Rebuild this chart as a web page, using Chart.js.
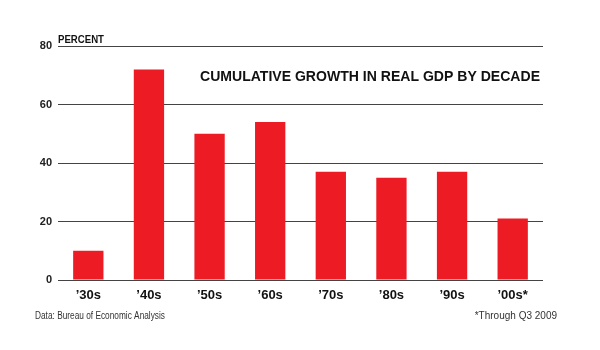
<!DOCTYPE html>
<html>
<head>
<meta charset="utf-8">
<script src="https://cdn.jsdelivr.net/npm/chart.js@4"></script>
<style>
  html, body { margin: 0; padding: 0; background: #fff; }
  #wrap { width: 600px; height: 350px; position: relative; }
</style>
</head>
<body>
<div id="wrap"><canvas id="gdp_chart"></canvas></div>
<script>
const decades = ["’30s", "’40s", "’50s", "’60s", "’70s", "’80s", "’90s", "’00s*"];
const growth = [10, 72, 50, 54, 37, 35, 37, 21];
const yTicks = [0, 20, 40, 60, 80];

const title = "CUMULATIVE GROWTH IN REAL GDP BY DECADE";
const unitLabel = "PERCENT";
const source = "Data: Bureau of Economic Analysis";
const note = "*Through Q3 2009";

const FONT = "'Liberation Sans', Arial, sans-serif";

// title, unit and footers drawn straight on the canvas
const textPlugin = {
    id: "texts",
    afterDraw(chart) {
        const c = chart.ctx;
        const area = chart.chartArea;
        c.save();
        c.fillStyle = "#111";
        c.textBaseline = "alphabetic";

        c.font = "bold 15px " + FONT;
        c.textAlign = "right";
        c.fillText(title, 540, 81, 340);

        c.font = "bold 11px " + FONT;
        c.textAlign = "left";
        c.fillText(unitLabel, area.left, 43, 46);

        c.fillStyle = "#333";
        c.font = "10px " + FONT;
        c.fillText(source, 35, 319, 130);
        c.textAlign = "right";
        c.fillText(note, 557, 319, 96);
        c.restore();
    },
};

const ctx = document.getElementById("gdp_chart").getContext("2d");
new Chart(ctx, {
    type: "bar",
    data: {
        labels: decades,
        datasets: [
            {
                data: growth,
                backgroundColor: "#ED1C24",
                borderWidth: 0,
                categoryPercentage: 1,
                barPercentage: 0.5,
            },
        ],
    },
    options: {
        responsive: true,
        maintainAspectRatio: false,
        animation: false,
        devicePixelRatio: 1,
        layout: {
            padding: { left: 0, right: 57, top: 46, bottom: 40 },
        },
        plugins: {
            legend: { display: false },
            tooltip: { enabled: false },
        },
        scales: {
            y: {
                min: 0,
                max: 80,
                z: 1,
                border: { display: false },
                grid: {
                    color: "#444",
                    lineWidth: 1,
                    drawTicks: false,
                },
                afterBuildTicks(scale) {
                    scale.ticks = yTicks.map((v) => ({ value: v }));
                },
                afterFit(scale) {
                    scale.width = 58;
                },
                ticks: {
                    color: "#222",
                    padding: 6,
                    font: { family: FONT, size: 11, weight: "bold" },
                },
            },
            x: {
                border: { display: false },
                grid: { display: false },
                afterFit(scale) {
                    scale.height = 30;
                },
                ticks: {
                    color: "#111",
                    padding: 0,
                    maxRotation: 0,
                    font: { family: FONT, size: 13, weight: "bold" },
                },
            },
        },
    },
    plugins: [textPlugin],
});
</script>
</body>
</html>
